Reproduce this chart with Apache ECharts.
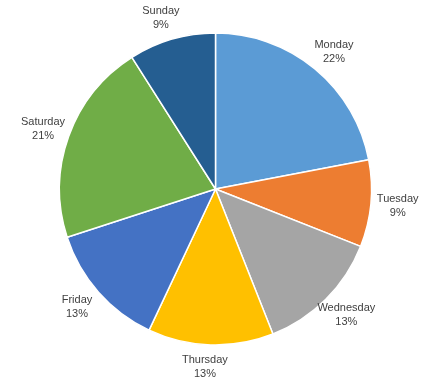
<!DOCTYPE html>
<html><head><meta charset="utf-8">
<script src="https://cdn.jsdelivr.net/npm/echarts@6/dist/echarts.min.js"></script>
<style>html,body{margin:0;padding:0;background:#fff}#c{width:435px;height:380px}</style>
</head><body><div id="c"></div>
<script>
const categories = ['Monday','Tuesday','Wednesday','Thursday','Friday','Saturday','Sunday'];
const values = [22, 9, 13, 13, 13, 21, 9];
const colors = ['#5B9BD5','#ED7D31','#A5A5A5','#FFC000','#4472C4','#70AD47','#255E91'];

const chart = echarts.init(document.getElementById('c'));
chart.setOption({
  animation: false,
  color: colors,
  series: [{
    type: 'pie',
    center: [215.5, 189],
    radius: 156,
    startAngle: 90,
    clockwise: true,
    avoidLabelOverlap: false,
    percentPrecision: 0,
    data: categories.map((c, i) => ({name: c, value: values[i]})),
    itemStyle: {borderColor: '#fff', borderWidth: 1.5},
    label: {
      show: true,
      position: 'outside',
      formatter: '{b}\n{d}%',
      fontFamily: 'Liberation Sans, Arial, sans-serif',
      fontSize: 11,
      lineHeight: 14,
      color: '#404040'
    },
    labelLine: {show: false, length: 22, length2: 0},
    labelLayout: function () { return {align: 'center', verticalAlign: 'middle'}; }
  }]
});
</script></body></html>
